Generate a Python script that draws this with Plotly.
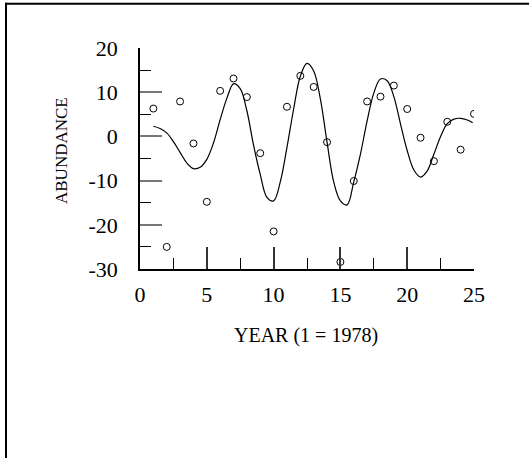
import plotly.graph_objects as go

# Observed abundance by year (1 = 1978)
years = list(range(1, 26))
abundance = [6.3, -25.0, 7.9, -1.6, -14.8, 10.3, 13.1, 8.9, -3.8, -21.5,
             6.7, 13.7, 11.2, -1.3, -28.4, -10.1, 7.9, 9.0, 11.5, 6.2,
             -0.3, -5.6, 3.3, -3.0, 5.1]

# Fitted curve
curve_x = [1.0, 1.5, 2.0, 2.5, 3.0, 3.5, 4.0, 4.5, 5.0, 5.5, 6.0, 6.5, 7.0, 7.5,
           8.0, 8.5, 9.0, 9.5, 10.0, 10.5, 11.0, 11.5, 12.0, 12.5, 13.0, 13.5,
           14.0, 14.5, 15.0, 15.5, 16.0, 16.5, 17.0, 17.5, 18.0, 18.5, 19.0,
           19.5, 20.0, 20.5, 21.0, 21.5, 22.0, 22.5, 23.0, 23.5, 24.0, 24.5, 24.9]
curve_y = [2.3, 1.8, 0.8, -1.2, -3.6, -6.0, -7.3, -7.0, -5.2, -1.5, 3.8, 8.6, 11.9, 10.8,
           5.8, -2.0, -8.6, -13.8, -14.6, -10.3, -2.5, 6.2, 13.6, 16.5, 14.8, 8.5,
           -1.3, -10.3, -14.6, -15.5, -10.3, -4.0, 3.5, 9.8, 13.0, 12.6, 9.0,
           2.8, -3.2, -7.6, -9.2, -7.8, -4.0, 0.0, 2.9, 3.9, 4.1, 3.7, 3.1]

x_tickvals = [0, 5, 10, 15, 20, 25]
x_ticktext = ["0", "5", "10", "15", "20", "25"]
y_tickvals = [-30, -20, -10, 0, 10, 20]
y_ticktext = ["-30", "-20", "-10", "0", "10", "20"]

FONT = "Liberation Serif, Times New Roman, serif"

fig = go.Figure()
fig.add_trace(go.Scatter(x=curve_x, y=curve_y, mode="lines",
                         line=dict(color="black", width=1.2, shape="spline", smoothing=1.0),
                         hoverinfo="skip", showlegend=False))
fig.add_trace(go.Scatter(x=years, y=abundance, mode="markers",
                         marker=dict(symbol="circle-open", size=7, color="black",
                                     line=dict(width=1, color="black")),
                         showlegend=False))

L, R, T, B = 140, 55, 48, 189
W, H = 529, 458
pw, ph = W - L - R, H - T - B

def px(x):
    return (x - L) / pw

def py(y):
    return (H - B - y) / ph

fig.update_layout(
    width=W, height=H,
    margin=dict(l=L, r=R, t=T, b=B, pad=0),
    paper_bgcolor="white", plot_bgcolor="white",
    font=dict(family=FONT, color="black"),
    xaxis=dict(range=[0, 25], tickvals=x_tickvals, ticktext=x_ticktext,
               showgrid=False, zeroline=False, showline=True, linecolor="black", linewidth=1.5,
               ticks="inside", ticklen=22, tickwidth=1.5, tickcolor="#333",
               minor=dict(ticks="inside", ticklen=11, tickwidth=1, tickcolor="black",
                          tickvals=[2.5, 7.5, 12.5, 17.5, 22.5], showgrid=False),
               tickfont=dict(size=22, family=FONT), ticklabelstandoff=5),
    yaxis=dict(range=[-30, 20], tickvals=y_tickvals, ticktext=y_ticktext,
               showgrid=False, zeroline=False, showline=True, linecolor="black", linewidth=1.5,
               ticks="inside", ticklen=22, tickwidth=1.5, tickcolor="#777",
               minor=dict(ticks="inside", ticklen=11, tickwidth=1, tickcolor="black",
                          tickvals=[-25, -15, -5, 5, 15], showgrid=False),
               tickfont=dict(size=22, family=FONT), ticklabelstandoff=16),
    annotations=[
        dict(text="YEAR (1 = 1978)", x=px(305.5), y=py(335), xref="paper", yref="paper",
             xanchor="center", yanchor="middle", showarrow=False,
             font=dict(size=20, family=FONT, color="black")),
        dict(text="ABUNDANCE", x=px(61), y=py(151), xref="paper", yref="paper",
             xanchor="center", yanchor="middle", showarrow=False, textangle=-90,
             font=dict(size=17, family=FONT, color="black")),
    ],
    shapes=[
        dict(type="line", xref="paper", yref="paper", x0=px(6), x1=px(6), y0=py(2.7), y1=py(470),
             line=dict(color="black", width=2)),
        dict(type="line", xref="paper", yref="paper", x0=px(5), x1=px(540), y0=py(3.7), y1=py(3.7),
             line=dict(color="black", width=2)),
    ],
)

fig.write_html("out.html", config={"displayModeBar": False},
               post_script="document.body.style.margin='0';document.body.style.overflow='hidden';")
